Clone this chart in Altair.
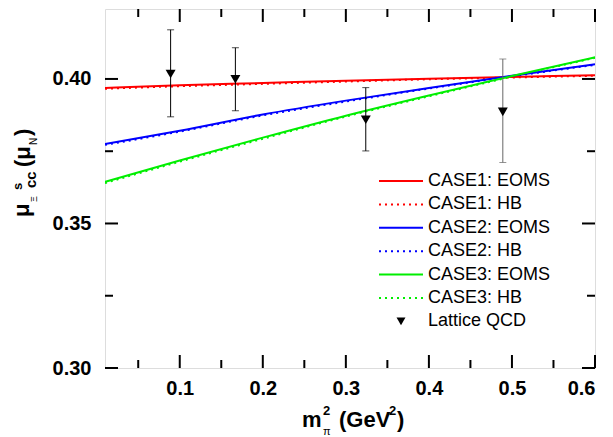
import altair as alt
import pandas as pd

# ---------------- data ----------------
x_m2 = [0.01, 0.1, 0.2, 0.3, 0.4, 0.5, 0.6]
case1_eoms = [0.3969, 0.3978, 0.3986, 0.3994, 0.4001, 0.4007, 0.4013]
case1_hb = [0.3966, 0.3975, 0.3983, 0.3991, 0.3999, 0.4005, 0.4011]
case2_eoms = [0.3775, 0.3821, 0.3877, 0.3925, 0.3969, 0.4011, 0.4051]
case2_hb = [0.3772, 0.3818, 0.3874, 0.3922, 0.3967, 0.4009, 0.4049]
case3_eoms = [0.3644, 0.3718, 0.3797, 0.3873, 0.3943, 0.4010, 0.4075]
case3_hb = [0.3640, 0.3714, 0.3793, 0.3870, 0.3940, 0.4008, 0.4073]

lat_x = [0.089, 0.167, 0.324, 0.489]
lat_y = [0.4017, 0.3999, 0.3859, 0.3886]
lat_lo = [0.3869, 0.3890, 0.3751, 0.3711]
lat_hi = [0.4170, 0.4108, 0.3970, 0.4069]

x_major = [0.1, 0.2, 0.3, 0.4, 0.5, 0.6]
x_minor = [0.05, 0.15, 0.25, 0.35, 0.45, 0.55]
y_major = [0.30, 0.35, 0.40]
y_minor = [0.325, 0.375]

legend_labels = ["CASE1: EOMS", "CASE1: HB", "CASE2: EOMS", "CASE2: HB",
                 "CASE3: EOMS", "CASE3: HB", "Lattice QCD"]

# ---------------- layout ----------------
W, H = 490, 359
FONT = "Liberation Sans"
xs = alt.Scale(domain=[0.01, 0.6], nice=False, zero=False)
ys = alt.Scale(domain=[0.30, 0.4242], nice=False, zero=False)
one = pd.DataFrame({"a": [0]})

RED, BLUE, GREEN = "#ff0000", "#0000ff", "#00ee00"
DOT = [2, 4]

def curve(vals, color, dashed):
    df = pd.DataFrame({"x": x_m2, "y": vals})
    kw = dict(color=color, strokeWidth=2, interpolate="monotone", clip=True)
    if dashed:
        kw["strokeDash"] = DOT
    return alt.Chart(df).mark_line(**kw).encode(
        x=alt.X("x:Q", scale=xs), y=alt.Y("y:Q", scale=ys))

def txt(s, x, y, size, bold=True, angle=0, align="left", baseline="alphabetic"):
    return alt.Chart(one).mark_text(
        text=s, fontSize=size, fontWeight="bold" if bold else "normal",
        angle=angle, align=align, baseline=baseline, font=FONT, color="black"
    ).encode(x=alt.value(x), y=alt.value(y))

# axes (labels only) carried by an invisible layer
axes = alt.Chart(pd.DataFrame({"x": x_m2, "y": case1_eoms})).mark_point(opacity=0).encode(
    x=alt.X("x:Q", scale=xs, axis=alt.Axis(
        values=x_major, format=".1f", title=None, ticks=False, domain=False, grid=False,
        labelFont=FONT, labelFontWeight="bold", labelFontSize=20, labelPadding=10,
        labelColor="black")),
    y=alt.Y("y:Q", scale=ys, axis=alt.Axis(
        values=y_major, format=".2f", title=None, ticks=False, domain=False, grid=False,
        labelFont=FONT, labelFontWeight="bold", labelFontSize=20, labelPadding=14,
        labelColor="black")),
)

def xticks(vals, length):
    df = pd.DataFrame({"v": vals})
    b = alt.Chart(df).mark_rule(color="black", strokeWidth=2).encode(
        x=alt.X("v:Q", scale=xs), y=alt.value(H), y2=alt.value(H - length))
    t = alt.Chart(df).mark_rule(color="black", strokeWidth=2).encode(
        x=alt.X("v:Q", scale=xs), y=alt.value(0), y2=alt.value(length))
    return [b, t]

def yticks(vals, length):
    df = pd.DataFrame({"v": vals})
    l = alt.Chart(df).mark_rule(color="black", strokeWidth=2).encode(
        y=alt.Y("v:Q", scale=ys), x=alt.value(0), x2=alt.value(length))
    r = alt.Chart(df).mark_rule(color="black", strokeWidth=2).encode(
        y=alt.Y("v:Q", scale=ys), x=alt.value(W), x2=alt.value(W - length))
    return [l, r]

ticks = xticks(x_major, 13) + xticks(x_minor, 8) + yticks(y_major, 13) + yticks(y_minor, 8)

# lattice points
lat = pd.DataFrame({"x": lat_x, "y": lat_y, "lo": lat_lo, "hi": lat_hi})
bar_color = alt.condition("datum.x > 0.4", alt.value("#666666"), alt.value("black"))
err = alt.Chart(lat).mark_rule(strokeWidth=1).encode(
    x=alt.X("x:Q", scale=xs), y=alt.Y("lo:Q", scale=ys), y2="hi:Q", color=bar_color)
cap_lo = alt.Chart(lat).mark_tick(orient="horizontal", size=7, thickness=1).encode(
    x=alt.X("x:Q", scale=xs), y=alt.Y("lo:Q", scale=ys), color=bar_color)
cap_hi = alt.Chart(lat).mark_tick(orient="horizontal", size=7, thickness=1).encode(
    x=alt.X("x:Q", scale=xs), y=alt.Y("hi:Q", scale=ys), color=bar_color)
pts = alt.Chart(lat).mark_point(shape="triangle-down", filled=True, size=100,
                                 color="black", opacity=1).encode(
    x=alt.X("x:Q", scale=xs), y=alt.Y("y:Q", scale=ys))

curves = [
    curve(case1_hb, RED, True), curve(case2_hb, BLUE, True), curve(case3_hb, GREEN, True),
    curve(case1_eoms, RED, False), curve(case2_eoms, BLUE, False), curve(case3_eoms, GREEN, False),
]

# legend (manual)
leg = []
styles = [(RED, False), (RED, True), (BLUE, False), (BLUE, True), (GREEN, False), (GREEN, True)]
LX0, LX1, LTX, LY0, LDY = 274, 318, 323, 172, 23.4
for i, lab in enumerate(legend_labels):
    yy = LY0 + i * LDY
    if i < 6:
        c, d = styles[i]
        kw = dict(color=c, strokeWidth=2)
        if d:
            kw["strokeDash"] = DOT
        leg.append(alt.Chart(one).mark_rule(**kw).encode(
            x=alt.value(LX0), x2=alt.value(LX1), y=alt.value(yy)))
    else:
        leg.append(alt.Chart(one).mark_point(shape="triangle-down", filled=True, size=80,
                                             color="black", opacity=1).encode(
            x=alt.value((LX0 + LX1) / 2), y=alt.value(yy)))
    leg.append(txt(lab, LTX, yy, 18, bold=False, baseline="middle"))

# axis titles built from pieces
titles = [
    # x title: m^2_pi (GeV^2)
    txt("m", 197, 418, 22),
    txt("2", 218, 406, 13),
    txt("π", 218, 426, 11, bold=False),
    txt("(GeV", 234, 418, 22),
    txt("2", 284, 406, 13),
    txt(")", 292, 418, 22),
    # y title: mu^s_{Xi cc} (mu_N), rotated
    txt("μ", -76, 208, 22, angle=270),
    txt("Ξ", -68, 193, 9, bold=False, angle=270),
    txt("s", -83, 181, 13, angle=270),
    txt("cc", -69, 179, 15, angle=270),
    txt("(μ", -75, 158, 22, angle=270),
    txt("N", -68, 136, 10, bold=False, angle=270),
    txt(")", -75, 127, 22, angle=270),
]

chart = alt.layer(axes, *curves, err, cap_lo, cap_hi, pts, *ticks, *leg, *titles).properties(
    width=W, height=H,
    autosize=alt.AutoSizeParams(type="none"),
    padding={"left": 97, "top": 1, "right": 10, "bottom": 75},
).configure_view(stroke="black", strokeWidth=2.5).configure(background="white")

chart.save("out.html", embed_options={"renderer": "svg", "actions": False})
